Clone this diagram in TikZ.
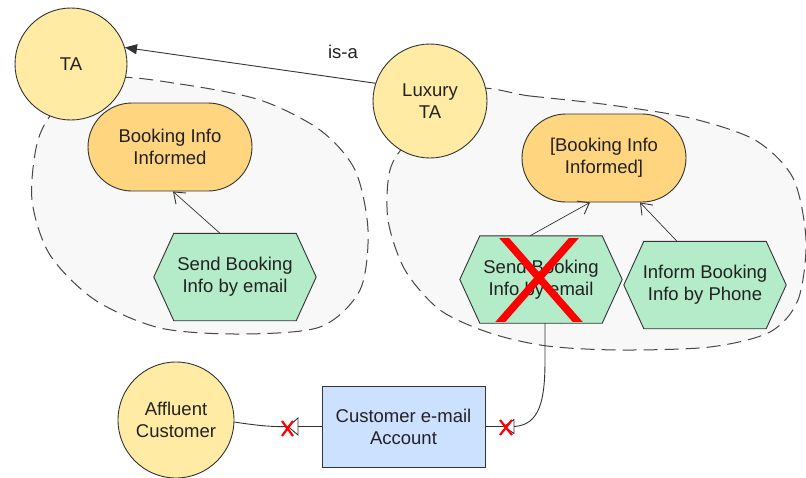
\documentclass[tikz,border=0pt]{standalone}
\usepackage{fontspec}
\setmainfont{Liberation Sans}
\usetikzlibrary{arrows.meta,calc}
\definecolor{actorfill}{RGB}{255,235,163}
\definecolor{goalfill}{RGB}{255,213,128}
\definecolor{taskfill}{RGB}{180,235,200}
\definecolor{resfill}{RGB}{204,224,255}
\definecolor{bndfill}{RGB}{248,248,248}
\definecolor{edgecol}{RGB}{51,51,51}
\definecolor{txtcol}{RGB}{34,34,34}
\pgfdeclarelayer{backl}
\pgfdeclarelayer{bndl}
\pgfdeclarelayer{shapel}
\pgfsetlayers{backl,bndl,shapel,main}
\newcommand\hexof[1]{%
  \draw[hexa] (#1.west) -- ([xshift=20pt]#1.north west) -- ([xshift=-20pt]#1.north east)
    -- (#1.east) -- ([xshift=-20pt]#1.south east) -- ([xshift=20pt]#1.south west) -- cycle;}
\begin{document}
\begin{tikzpicture}[x=1pt,y=-1pt,
  lbl/.style={font=\fontsize{18.5}{22}\selectfont, text=txtcol, align=center},
  actor/.style={lbl, circle, draw=edgecol, fill=actorfill, line width=0.9pt, inner sep=0pt},
  goal/.style={lbl, rectangle, rounded corners=44pt, draw=edgecol, fill=goalfill, line width=0.9pt, minimum width=164pt, minimum height=88pt, inner sep=0pt},
  task/.style={lbl, rectangle, minimum width=162pt, minimum height=87pt, inner sep=0pt},
  hexa/.style={draw=edgecol, fill=taskfill, line width=0.9pt},
  res/.style={lbl, rectangle, draw=edgecol, fill=resfill, line width=0.9pt, minimum width=163pt, minimum height=81pt, inner sep=0pt},
  bnd/.style={draw=edgecol!90, fill=bndfill, line width=1pt, dash pattern=on 14pt off 7pt},
  meansend/.style={draw=edgecol, line width=0.7pt, -{Straight Barb[length=10pt,width=15pt,line width=0.9pt]}},
  link/.style={draw=edgecol, line width=0.9pt},
  xmark/.style={draw=red, line width=2.2pt},
  ]
\useasboundingbox (0,0) rectangle (806,477);
\begin{pgfonlayer}{backl}
  \fill[white] (0,0) rectangle (806,477);
\end{pgfonlayer}
\begin{pgfonlayer}{bndl}
  \draw[bnd] plot[smooth cycle] coordinates {(110,78) (180,84) (260,100) (320,130) (355,170) (368,230) (360,290) (320,327) (240,334) (160,328) (95,300) (50,255) (32,200) (38,140) (60,105)};
  \draw[bnd] plot[smooth cycle] coordinates {(470,90) (530,96) (610,105) (690,118) (755,140) (793,178) (806,240) (798,300) (770,332) (710,347) (620,350) (547,346) (490,333) (440,310) (405,270) (388,220) (390,170) (410,140)};
\end{pgfonlayer}

\node[actor, minimum size=112pt] (ta) at (71,64) {TA};
\node[actor, minimum size=114pt] (lux) at (430,101) {Luxury\\TA};
\node[actor, minimum size=116pt] (aff) at (176,420) {Affluent\\Customer};
\node[goal] (g1) at (170,147) {Booking Info\\Informed};
\node[goal] (g2) at (604,158) {[Booking Info\\Informed]};
\node[task] (t1) at (235,277) {Send Booking\\Info by email};
\node[task] (ct) at (541,279.5) {Send Booking\\Info by email};
\node[task] (pt) at (705,285) {Inform Booking\\Info by Phone};
\node[res] (acc) at (403.5,426.5) {Customer e-mail\\Account};
\node[lbl] (isa) at (343,52) {is-a};

\begin{pgfonlayer}{shapel}
  \hexof{t1}
  \hexof{ct}
  \hexof{pt}
\end{pgfonlayer}

\draw[link, -{Triangle[length=12pt,width=10pt]}] (lux.162) -- (ta.17);

\draw[meansend] ([xshift=-15pt]t1.north) -- ([xshift=3pt]g1.south);
\draw[meansend] ([xshift=-11pt]ct.north) -- ([xshift=-14pt]g2.south);
\draw[meansend] ([xshift=-28pt]pt.north) -- ([xshift=36pt]g2.south);

\coordinate (dl) at (288,426.5);
\draw[link] (aff.-2) .. controls (260,426) and (275,427) .. (dl);
\draw[link, fill=white] (dl) -- ++(10,-8.5) -- ++(0,17) -- cycle;
\draw[link] ([xshift=10pt]dl) -- (acc.west);

\coordinate (dr) at (504,426.5);
\draw[link] (acc.east) -- (dr);
\draw[link, fill=white] (dr) -- ++(10,-7) -- ++(0,14) -- cycle;
\draw[link] ([xshift=10pt]dr) .. controls (540,425) and (545,400) .. (545,360) -- ([xshift=4pt]ct.south);

\draw[xmark] (282,421) -- (293,436) (293,421) -- (282,436);
\draw[xmark] (500,420) -- (512,435) (512,420) -- (500,435);

\begin{scope}
  \clip (490,238) rectangle (590,321);
  \draw[red, line width=7.5pt] (499.7,233) -- (580.4,325) (578.3,233) -- (497.6,325);
\end{scope}
\end{tikzpicture}
\end{document}
